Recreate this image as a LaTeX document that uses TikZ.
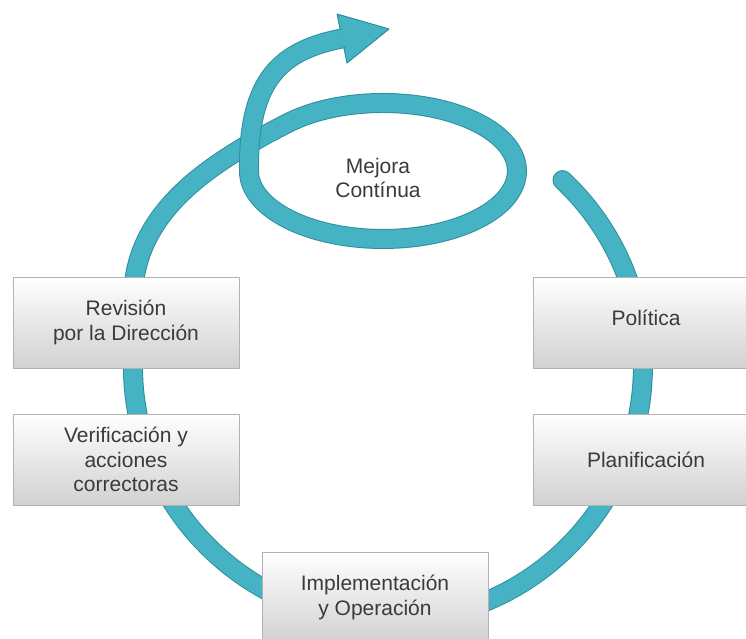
\documentclass[tikz,border=0pt]{standalone}
\usepackage{fontspec}
\setmainfont{Liberation Sans}
\definecolor{cyanband}{HTML}{45B3C3}
\definecolor{cyanedge}{HTML}{2F8E9C}
\definecolor{texto}{HTML}{3A3A3A}
\begin{document}
\begin{tikzpicture}[x=1pt, y=1pt, yscale=-1, line join=round,
  font=\fontsize{21}{24.5}\selectfont,
  band/.style={draw=cyanedge, double=cyanband, double distance=18pt, line width=1pt},
  caja/.style={rectangle, draw=black!30, line width=0.8pt, top color=white, bottom color=black!18,
    minimum width=226pt, minimum height=91pt, align=center, text=texto}]
	\def\R{255} % radio del circulo
	\def\rx{134} \def\ry{68} % elipse
	\useasboundingbox (0,0) rectangle (746,639);
	\clip (0,0) rectangle (746,639);
	% banda
	\draw[band, line cap=round] (562.5,180.1) arc[start angle=-46.8, end angle=180, radius=\R pt] -- (133,300)
		.. controls (133,215) and (203.5,165.8) .. (288.2,122.9) arc[start angle=-135, end angle=180, x radius=\rx pt, y radius=\ry pt];
	\draw[draw=cyanedge, fill=cyanband, line width=1pt] (337,14) -- (389,29) -- (347,63) -- cycle;
	\draw[band] (249,171) .. controls (248,80) and (280,50) .. (344,38.1);
	\node[text=texto, align=center] (mejora) at (378,178) {Mejora\\Contínua};
	% cajas
	\node[caja] (revision) at (126,322.5) {Revisión\\por la Dirección};
	\node[caja] (verificacion) at (126,459.5) {Verificación y\\acciones\\correctoras};
	\node[caja] (politica) at (646,322.5) {\raisebox{10pt}{Política}};
	\node[caja] (planificacion) at (646,459.5) {Planificación};
	\node[caja] (implementacion) at (375,597.5) {Implementación\\y Operación};
\end{tikzpicture}
\end{document}
